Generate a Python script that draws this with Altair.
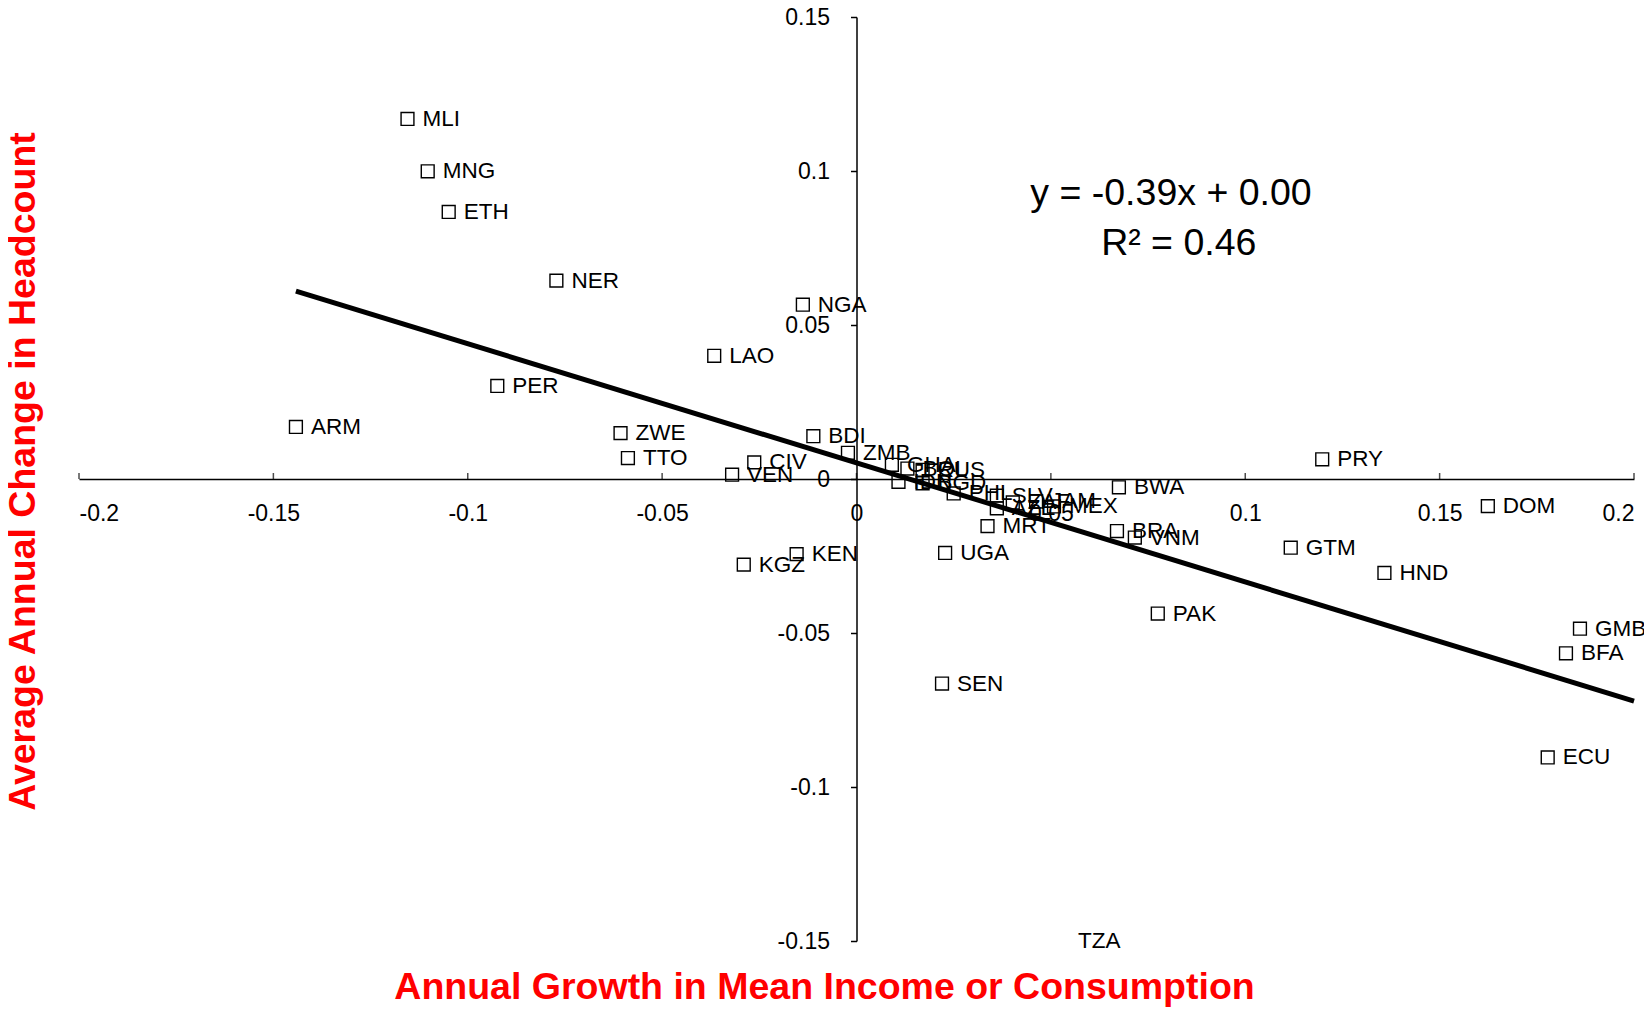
import altair as alt
import pandas as pd

# ---- data ----
countries = ["MLI", "MNG", "ETH", "NER", "NGA", "LAO", "PER", "ARM", "ZWE", "BDI",
             "ZMB", "TTO", "CIV", "VEN", "PRY", "KGZ", "KEN", "BWA", "MRT", "UGA",
             "BRA", "VNM", "DOM", "GTM", "HND", "PAK", "GMB", "BFA", "SEN", "ECU",
             "GHA", "BOL", "RUS", "IDN", "BGD", "PHL", "SLV", "ZAF", "AZE", "JAM",
             "MEX", "TZA"]
growth = [-0.1155, -0.1103, -0.1049, -0.0772, -0.0138, -0.0366, -0.0924, -0.1442, -0.0607, -0.0111,
          -0.0022, -0.0588, -0.0263, -0.0320, 0.1198, -0.0290, -0.0154, 0.0675, 0.0337, 0.0228,
          0.0670, 0.0716, 0.1624, 0.1117, 0.1358, 0.0775, 0.1861, 0.1825, 0.0220, 0.1778,
          0.0091, 0.0131, 0.0170, 0.0108, 0.0170, 0.0250, 0.0361, 0.0402, 0.0361, 0.0462,
          0.0508, 0.0531]
headcount_change = [0.1169, 0.0999, 0.0867, 0.0644, 0.0566, 0.0400, 0.0302, 0.0169, 0.0149, 0.0139,
                    0.0085, 0.0068, 0.0054, 0.0014, 0.0064, -0.0278, -0.0244, -0.0027, -0.0153, -0.0240,
                    -0.0169, -0.0190, -0.0088, -0.0223, -0.0305, -0.0437, -0.0486, -0.0566, -0.0664, -0.0904,
                    0.0046, 0.0034, 0.0030, -0.0009, -0.0014, -0.0047, -0.0054, -0.0076, -0.0095, -0.0073,
                    -0.0089, -0.1800]

x_ticks = [-0.2, -0.15, -0.1, -0.05, 0, 0.05, 0.1, 0.15, 0.2]
y_ticks = [-0.15, -0.1, -0.05, 0, 0.05, 0.1, 0.15]

trend_x = [-0.1442, 0.2]
trend_y = [0.0610, -0.0721]

eq_text = ["y = -0.39x + 0.00", "R² = 0.46"]
eq_x = [0.0809, 0.0829]
eq_y = [0.0924, 0.0763]

x_title = "Annual Growth in Mean Income or Consumption"
y_title = "Average Annual Change in Headcount"

# ---- tables ----
pts = pd.DataFrame({"label": countries, "x": growth, "y": headcount_change})
trend = pd.DataFrame({"x": trend_x, "y": trend_y})
eq = pd.DataFrame({"label": eq_text, "x": eq_x, "y": eq_y})
ticks = pd.DataFrame({"x": x_ticks, "y": [0] * len(x_ticks)})

FONT = "Liberation Sans"
W, H = 1555, 924

xscale = alt.Scale(domain=[-0.2, 0.2], nice=False, zero=False)
yscale = alt.Scale(domain=[-0.15, 0.15], nice=False, zero=False, clamp=True)

xaxis = alt.Axis(
    values=x_ticks, labelExpr="toString(datum.value)", grid=False,
    offset=-H / 2, ticks=False, tickSize=0, labelPadding=23,
    domainColor="black", domainWidth=1.5,
    labelFont=FONT, labelFontSize=23, labelColor="black",
    title=x_title, titleFont=FONT, titleFontSize=37.5, titleFontWeight="bold",
    titleColor="#FF0000", titleX=745, titleY=508, titleAlign="center",
    titleBaseline="middle", titleAngle=0,
)
yaxis = alt.Axis(
    values=y_ticks, labelExpr="toString(datum.value)", grid=False,
    offset=-W / 2, ticks=True, tickSize=6, tickColor="black", tickWidth=1.5,
    labelPadding=21, domainColor="black", domainWidth=1.5,
    labelFont=FONT, labelFontSize=23, labelColor="black",
    title=y_title, titleFont=FONT, titleFontSize=37.5, titleFontWeight="bold",
    titleColor="#FF0000", titleX=-833, titleY=454, titleAlign="center",
    titleBaseline="middle", titleAngle=270,
)

squares = alt.Chart(pts).transform_filter(
    "datum.y >= -0.15 && datum.y <= 0.15"
).mark_point(
    shape="square", filled=False, size=165, strokeWidth=1.4, color="black", opacity=1
).encode(
    x=alt.X("x:Q", scale=xscale, axis=xaxis),
    y=alt.Y("y:Q", scale=yscale, axis=yaxis),
)

labels = alt.Chart(pts).mark_text(
    align="left", baseline="middle", dx=15, fontSize=22.5, font=FONT, color="black"
).encode(
    x=alt.X("x:Q", scale=xscale),
    y=alt.Y("y:Q", scale=yscale),
    text="label:N",
)

line = alt.Chart(trend).mark_line(color="black", strokeWidth=5).encode(
    x=alt.X("x:Q", scale=xscale),
    y=alt.Y("y:Q", scale=yscale),
)

xticks = alt.Chart(ticks).mark_tick(
    orient="vertical", size=6, thickness=1.5, color="black", yOffset=-3
).encode(
    x=alt.X("x:Q", scale=xscale),
    y=alt.Y("y:Q", scale=yscale),
)

eqtext = alt.Chart(eq).mark_text(
    align="center", baseline="middle", fontSize=37.5, font=FONT, color="black"
).encode(
    x=alt.X("x:Q", scale=xscale),
    y=alt.Y("y:Q", scale=yscale),
    text="label:N",
)

chart = alt.layer(squares, line, xticks, labels, eqtext).properties(
    width=W, height=H,
    autosize=alt.AutoSizeParams(type="none"),
    padding={"left": 71, "top": 9, "right": 10, "bottom": 66},
    background="white",
).configure_view(stroke=None)

chart.save("out.html", embed_options={"renderer": "svg", "actions": False})
